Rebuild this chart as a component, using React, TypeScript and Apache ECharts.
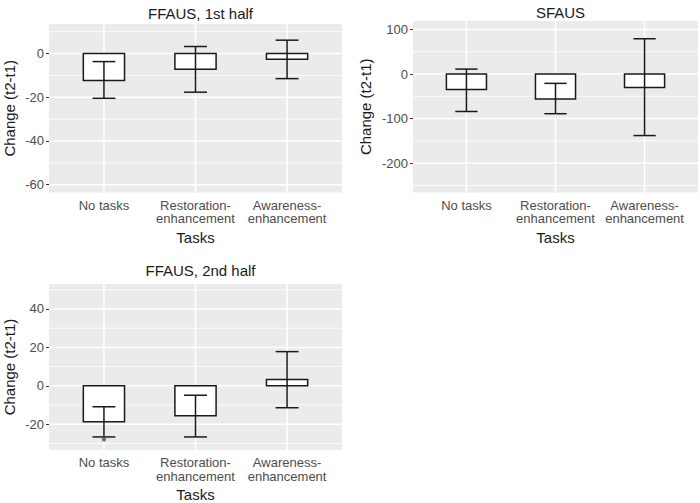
import React, { useEffect, useRef } from "react";
import * as echarts from "echarts";

// ---- data ----
const categories = ["No tasks", "Restoration-\nenhancement", "Awareness-\nenhancement"];
const catPos = [1, 2, 3];

const titles = ["FFAUS, 1st half", "SFAUS", "FFAUS, 2nd half"];

const ffaus1Mean = [-12.3, -7.2, -2.6];
const ffaus1Low = [-20.5, -17.7, -11.5];
const ffaus1High = [-3.7, 3.2, 6.1];

const sfausMean = [-35, -56, -30];
const sfausLow = [-84, -89, -138];
const sfausHigh = [11, -21, 79];

const ffaus2Mean = [-18.7, -15.6, 3.3];
const ffaus2Low = [-26.6, -26.6, -11.4];
const ffaus2High = [-10.9, -4.9, 17.8];
const ffaus2Sig = ["*", "", ""];

const ffaus1Major = [-60, -40, -20, 0];
const ffaus1Minor = [-50, -30, -10, 10];
const sfausMajor = [-200, -100, 0, 100];
const sfausMinor = [-250, -150, -50, 50];
const ffaus2Major = [-20, 0, 20, 40];
const ffaus2Minor = [-30, -10, 10, 30, 50];

const ffaus1Range = [-63.6, 13.5];
const sfausRange = [-265.6, 118.8];
const ffaus2Range = [-33.4, 53];

// ---- layout / style ----
const X_MIN = 0.4;
const X_MAX = 3.6;
const BAR_W = 0.45;
const CAP_W = 0.25;
const FONT = "'Liberation Sans', Arial, sans-serif";
const INK = "#1a1a1a";

const grids = [
  { left: 49, top: 24, width: 293, height: 168.5 },
  { left: 413, top: 21, width: 285, height: 171.5 },
  { left: 49, top: 284, width: 293, height: 166 },
];
const yNameGaps = [32, 40, 32];
const titlePos = [
  { cx: 195.5, top: 1 },
  { cx: 555.5, top: 0 },
  { cx: 195.5, top: 258 },
];

const panels = [
  { mean: ffaus1Mean, low: ffaus1Low, high: ffaus1High, sig: ["", "", ""], major: ffaus1Major, minor: ffaus1Minor, range: ffaus1Range },
  { mean: sfausMean, low: sfausLow, high: sfausHigh, sig: ["", "", ""], major: sfausMajor, minor: sfausMinor, range: sfausRange },
  { mean: ffaus2Mean, low: ffaus2Low, high: ffaus2High, sig: ffaus2Sig, major: ffaus2Major, minor: ffaus2Minor, range: ffaus2Range },
];

function buildOption() {
  const grid: any[] = [];
  const xAxis: any[] = [];
  const yAxis: any[] = [];
  const series: any[] = [];
  const title: any[] = [];

  panels.forEach((p, i) => {
    grid.push({
      ...grids[i],
      show: true,
      backgroundColor: "#EBEBEB",
      borderWidth: 0,
      containLabel: false,
    });
    title.push({
      text: titles[i],
      left: titlePos[i].cx,
      top: titlePos[i].top,
      textAlign: "center",
      textStyle: { fontFamily: FONT, fontSize: 15, fontWeight: "normal", color: INK },
    });
    xAxis.push({
      type: "value",
      gridIndex: i,
      min: X_MIN,
      max: X_MAX,
      name: "Tasks",
      nameLocation: "middle",
      nameGap: 37,
      nameTextStyle: { fontFamily: FONT, fontSize: 15, color: INK },
      axisLine: { show: false },
      splitLine: { show: false },
      axisTick: { show: true, customValues: catPos, length: 3, lineStyle: { color: "#333", width: 1 } },
      axisLabel: {
        customValues: catPos,
        formatter: (v: number) => categories[Math.round(v) - 1] ?? "",
        fontFamily: FONT,
        fontSize: 13,
        lineHeight: 13.5,
        color: "#4D4D4D",
        margin: 6,
      },
    });
    yAxis.push({
      type: "value",
      gridIndex: i,
      min: p.range[0],
      max: p.range[1],
      name: "Change (t2-t1)",
      nameLocation: "middle",
      nameGap: yNameGaps[i],
      nameTextStyle: { fontFamily: FONT, fontSize: 15, color: INK },
      axisLine: { show: false },
      splitLine: { show: false },
      axisTick: { show: true, customValues: p.major, length: 3, lineStyle: { color: "#333", width: 1 } },
      axisLabel: {
        customValues: p.major,
        fontFamily: FONT,
        fontSize: 13,
        color: "#4D4D4D",
        margin: 5,
      },
    });

    // minor horizontal grid lines
    series.push({
      type: "custom",
      xAxisIndex: i,
      yAxisIndex: i,
      z: 1,
      silent: true,
      data: p.minor.map((v) => [X_MIN, v]),
      renderItem: (_: any, api: any) => {
        const a = api.coord([X_MIN, api.value(1)]);
        const b = api.coord([X_MAX, api.value(1)]);
        return { type: "line", shape: { x1: a[0], y1: a[1], x2: b[0], y2: b[1] }, style: { stroke: "#FFFFFF", lineWidth: 0.8 } };
      },
    });
    // major horizontal grid lines
    series.push({
      type: "custom",
      xAxisIndex: i,
      yAxisIndex: i,
      z: 2,
      silent: true,
      data: p.major.map((v) => [X_MIN, v]),
      renderItem: (_: any, api: any) => {
        const a = api.coord([X_MIN, api.value(1)]);
        const b = api.coord([X_MAX, api.value(1)]);
        return { type: "line", shape: { x1: a[0], y1: a[1], x2: b[0], y2: b[1] }, style: { stroke: "#FFFFFF", lineWidth: 1.5 } };
      },
    });
    // major vertical grid lines
    series.push({
      type: "custom",
      xAxisIndex: i,
      yAxisIndex: i,
      z: 2,
      silent: true,
      data: catPos.map((c) => [c, p.range[0]]),
      renderItem: (_: any, api: any) => {
        const a = api.coord([api.value(0), p.range[0]]);
        const b = api.coord([api.value(0), p.range[1]]);
        return { type: "line", shape: { x1: a[0], y1: a[1], x2: b[0], y2: b[1] }, style: { stroke: "#FFFFFF", lineWidth: 1.5 } };
      },
    });
    // bars
    series.push({
      type: "custom",
      xAxisIndex: i,
      yAxisIndex: i,
      z: 3,
      data: catPos.map((c, k) => [c, p.mean[k]]),
      renderItem: (_: any, api: any) => {
        const x = api.value(0);
        const v = api.value(1);
        const a = api.coord([x - BAR_W / 2, 0]);
        const b = api.coord([x + BAR_W / 2, v]);
        return {
          type: "rect",
          shape: {
            x: Math.min(a[0], b[0]),
            y: Math.min(a[1], b[1]),
            width: Math.abs(b[0] - a[0]),
            height: Math.abs(b[1] - a[1]),
          },
          style: { fill: "#FFFFFF", stroke: INK, lineWidth: 1.5 },
        };
      },
    });
    // error bars
    series.push({
      type: "custom",
      xAxisIndex: i,
      yAxisIndex: i,
      z: 4,
      data: catPos.map((c, k) => [c, p.low[k], p.high[k]]),
      renderItem: (_: any, api: any) => {
        const x = api.value(0);
        const lo = api.coord([x, api.value(1)]);
        const hi = api.coord([x, api.value(2)]);
        const loL = api.coord([x - CAP_W / 2, api.value(1)]);
        const loR = api.coord([x + CAP_W / 2, api.value(1)]);
        const hiL = api.coord([x - CAP_W / 2, api.value(2)]);
        const hiR = api.coord([x + CAP_W / 2, api.value(2)]);
        const st = { stroke: INK, lineWidth: 1.5 };
        return {
          type: "group",
          children: [
            { type: "line", shape: { x1: lo[0], y1: lo[1], x2: hi[0], y2: hi[1] }, style: st },
            { type: "line", shape: { x1: loL[0], y1: loL[1], x2: loR[0], y2: loR[1] }, style: st },
            { type: "line", shape: { x1: hiL[0], y1: hiL[1], x2: hiR[0], y2: hiR[1] }, style: st },
          ],
        };
      },
    });
    // significance markers
    if (p.sig.some((s) => s)) {
      series.push({
        type: "custom",
        xAxisIndex: i,
        yAxisIndex: i,
        z: 5,
        silent: true,
        data: catPos.map((c, k) => [c, p.low[k]]),
        renderItem: (params: any, api: any) => {
          const s = p.sig[params.dataIndex];
          if (!s) return null;
          const pt = api.coord([api.value(0), api.value(1)]);
          return {
            type: "text",
            x: pt[0],
            y: pt[1] - 1,
            style: { text: s, fill: "#4A5566", font: `bold 12px ${FONT}`, align: "center", verticalAlign: "top" },
          };
        },
      });
    }
  });

  return { animation: false, backgroundColor: "#FFFFFF", title, grid, xAxis, yAxis, series };
}

export default function App() {
  const ref = useRef<HTMLDivElement>(null);
  useEffect(() => {
    if (!ref.current) return;
    const chart = echarts.init(ref.current, undefined, { renderer: "svg" });
    chart.setOption(buildOption() as any);
    return () => chart.dispose();
  }, []);
  return <div ref={ref} style={{ position: "absolute", left: 0, top: 0, width: 700, height: 503 }} />;
}
